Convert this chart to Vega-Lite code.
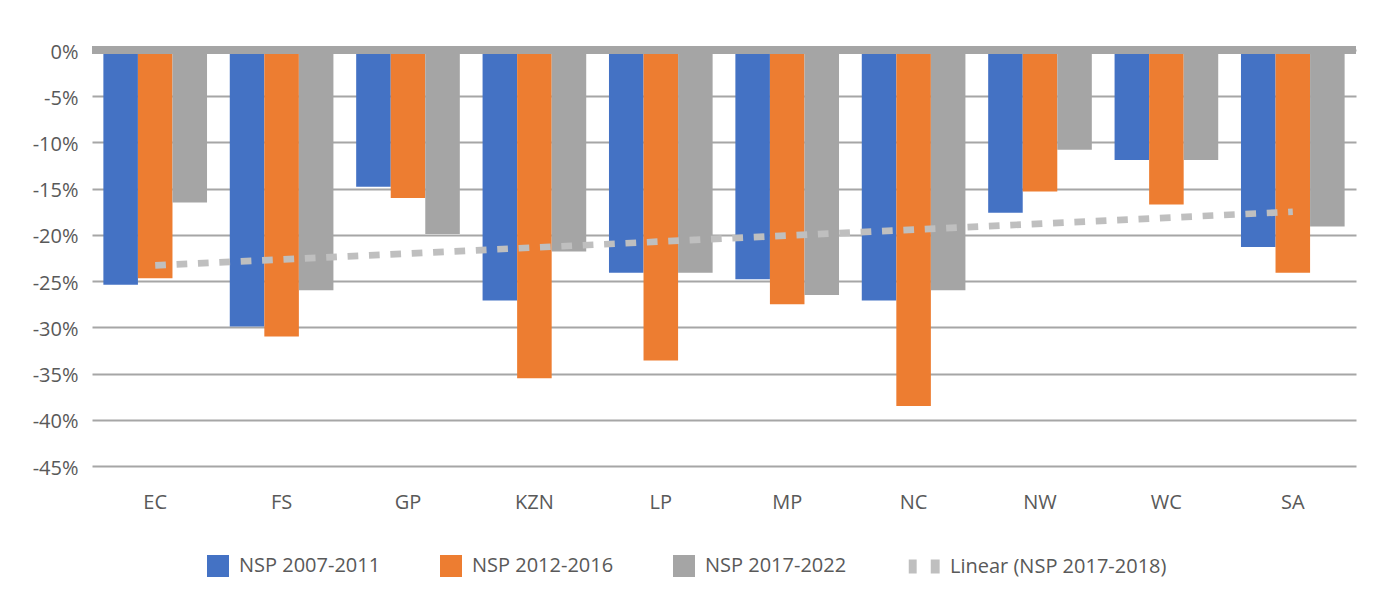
{
  "$schema": "https://vega.github.io/schema/vega-lite/v6.json",
  "width": 1264,
  "height": 416,
  "autosize": {"type": "none"},
  "padding": {"left": 92, "top": 50, "right": 18, "bottom": 128},
  "background": "white",
  "config": {
    "view": {"stroke": null},
    "font": "Open Sans",
    "axis": {"labelFont": "Open Sans", "labelFontSize": 20, "labelColor": "#595959"}
  },
  "datasets": {
    "bars": [
      {"region": "EC", "series": "NSP 2007-2011", "value": -0.254},
      {"region": "EC", "series": "NSP 2012-2016", "value": -0.247},
      {"region": "EC", "series": "NSP 2017-2022", "value": -0.165},
      {"region": "FS", "series": "NSP 2007-2011", "value": -0.299},
      {"region": "FS", "series": "NSP 2012-2016", "value": -0.310},
      {"region": "FS", "series": "NSP 2017-2022", "value": -0.260},
      {"region": "GP", "series": "NSP 2007-2011", "value": -0.148},
      {"region": "GP", "series": "NSP 2012-2016", "value": -0.160},
      {"region": "GP", "series": "NSP 2017-2022", "value": -0.199},
      {"region": "KZN", "series": "NSP 2007-2011", "value": -0.271},
      {"region": "KZN", "series": "NSP 2012-2016", "value": -0.355},
      {"region": "KZN", "series": "NSP 2017-2022", "value": -0.218},
      {"region": "LP", "series": "NSP 2007-2011", "value": -0.241},
      {"region": "LP", "series": "NSP 2012-2016", "value": -0.336},
      {"region": "LP", "series": "NSP 2017-2022", "value": -0.241},
      {"region": "MP", "series": "NSP 2007-2011", "value": -0.248},
      {"region": "MP", "series": "NSP 2012-2016", "value": -0.275},
      {"region": "MP", "series": "NSP 2017-2022", "value": -0.265},
      {"region": "NC", "series": "NSP 2007-2011", "value": -0.271},
      {"region": "NC", "series": "NSP 2012-2016", "value": -0.385},
      {"region": "NC", "series": "NSP 2017-2022", "value": -0.260},
      {"region": "NW", "series": "NSP 2007-2011", "value": -0.176},
      {"region": "NW", "series": "NSP 2012-2016", "value": -0.153},
      {"region": "NW", "series": "NSP 2017-2022", "value": -0.108},
      {"region": "WC", "series": "NSP 2007-2011", "value": -0.119},
      {"region": "WC", "series": "NSP 2012-2016", "value": -0.167},
      {"region": "WC", "series": "NSP 2017-2022", "value": -0.119},
      {"region": "SA", "series": "NSP 2007-2011", "value": -0.213},
      {"region": "SA", "series": "NSP 2012-2016", "value": -0.241},
      {"region": "SA", "series": "NSP 2017-2022", "value": -0.191}
    ],
    "trend": [
      {"region": "EC", "series": "Linear (NSP 2017-2018)", "value": -0.233},
      {"region": "SA", "series": "Linear (NSP 2017-2018)", "value": -0.175}
    ]
  },
  "layer": [
    {
      "data": {"name": "bars"},
      "mark": {"type": "bar"},
      "encoding": {
        "x": {
          "field": "region", "type": "nominal", "sort": null,
          "scale": {"domain": ["EC", "FS", "GP", "KZN", "LP", "MP", "NC", "NW", "WC", "SA"], "paddingInner": 0.18, "paddingOuter": 0.09},
          "axis": {"title": null, "domain": false, "ticks": false, "grid": false, "labelAngle": 0, "labelPadding": 26}
        },
        "xOffset": {
          "field": "series", "type": "nominal", "sort": null,
          "scale": {"domain": ["NSP 2007-2011", "NSP 2012-2016", "NSP 2017-2022"], "paddingInner": 0, "paddingOuter": 0}
        },
        "y": {
          "field": "value", "type": "quantitative",
          "scale": {"domain": [-0.45, 0], "nice": false},
          "axis": {
            "title": null, "domain": false, "ticks": false,
            "values": [0, -0.05, -0.1, -0.15, -0.2, -0.25, -0.3, -0.35, -0.4, -0.45],
            "labelExpr": "replace(format(datum.value, '.0%'), '\u2212', '-')",
            "gridColor": "#a6a6a6", "gridWidth": 2, "labelPadding": 14, "labelOffset": 2
          }
        },
        "color": {
          "field": "series", "type": "nominal",
          "scale": {
            "domain": ["NSP 2007-2011", "NSP 2012-2016", "NSP 2017-2022", "Linear (NSP 2017-2018)"],
            "range": ["#4472c4", "#ed7d31", "#a5a5a5", "#bfbfbf"]
          },
          "legend": {
            "title": null, "orient": "none", "legendX": 115, "legendY": 505,
            "direction": "horizontal", "padding": 0,
            "symbolType": "square", "symbolSize": 484, "symbolStrokeWidth": 0,
            "labelFont": "Open Sans", "labelFontSize": 20, "labelColor": "#595959",
            "labelOffset": 10, "columnPadding": 59, "labelLimit": 400,
            "encode": {
              "symbols": {
                "update": {
                  "shape": {"signal": "datum.value === 'Linear (NSP 2017-2018)' ? 'M-0.75,-0.64H-0.03V0.64H-0.75Z M1.25,-0.64H2.06V0.64H1.25Z' : 'square'"},
                  "fill": {"signal": "datum.value === 'Linear (NSP 2017-2018)' ? '#b4b4b4' : scale('color', datum.value)"},
                  "stroke": {"value": "transparent"},
                  "strokeWidth": {"value": 0},
                  "opacity": {"value": 1}
                }
              },
              "labels": {
                "update": {
                  "dx": {"signal": "datum.value === 'Linear (NSP 2017-2018)' ? 12 : 0"}
                }
              }
            }
          }
        }
      }
    },
    {
      "data": {"values": [{}]},
      "mark": {"type": "rule", "color": "#a5a5a5", "strokeWidth": 8},
      "encoding": {"y": {"datum": 0}}
    },
    {
      "data": {"name": "trend"},
      "mark": {"type": "line", "strokeDash": [10.7, 10.7], "strokeWidth": 6.7, "strokeCap": "butt"},
      "encoding": {
        "x": {"field": "region", "type": "nominal", "sort": null},
        "y": {"field": "value", "type": "quantitative"},
        "color": {"field": "series", "type": "nominal"}
      }
    }
  ]
}
